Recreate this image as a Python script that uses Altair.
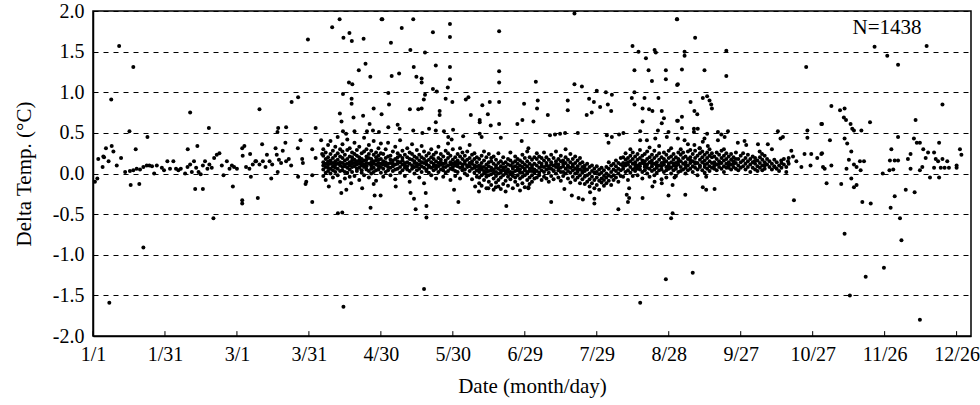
import altair as alt
import pandas as pd

# ---- scattered points: (day since 1/1, delta temp) ----
pts_jan_feb = [
    (10.9, 1.57), (16.8, 1.31), (7.6, 0.91), (40.5, 0.75), (15.2, 0.52), (22.7, 0.45),
    (48.3, 0.56), (17.8, 0.30), (39.5, 0.30), (43.5, 0.34), (0.8, -0.10), (1.8, -0.06),
    (2.2, 0.18), (4.0, 0.08), (4.6, 0.20), (5.4, 0.31), (6.5, 0.15), (7.8, 0.34),
    (8.5, 0.27), (9.9, 0.10), (11.7, 0.19), (13.4, 0.02), (15.4, 0.03), (16.8, 0.04),
    (18.2, 0.06), (19.6, 0.05), (21.0, 0.08), (22.4, 0.10), (23.5, 0.10), (24.6, 0.09),
    (25.5, 0.00), (26.6, 0.10), (28.7, 0.07), (29.6, 0.04), (31.0, 0.15), (32.1, 0.06),
    (33.5, 0.15), (34.6, 0.06), (35.6, 0.04), (36.6, 0.06), (38.4, 0.00), (39.4, 0.08),
    (40.5, 0.11), (41.2, 0.02), (42.1, 0.15), (43.0, 0.07), (44.0, 0.02), (44.9, -0.01),
    (45.8, 0.10), (46.7, 0.15), (47.7, 0.06), (48.5, 0.11), (49.5, 0.07), (50.5, 0.19),
    (51.6, 0.23), (52.7, 0.25), (53.7, 0.10), (54.4, -0.02), (55.8, 0.15), (56.9, 0.06),
    (57.9, 0.10), (58.8, 0.08), (60.0, 0.06), (15.7, -0.14), (19.3, -0.13), (42.6, -0.19),
    (45.8, -0.19), (58.3, -0.16), (50.2, -0.55), (21.0, -0.91), (6.8, -1.59), (4.3, 0.21),
]

pts_mar_apr = [
    (102.8, 1.90), (99.7, 1.80), (89.6, 1.65), (104.4, 1.67), (106.9, 1.73), (107.9, 1.63),
    (112.8, 1.66), (120.3, 1.90), (113.6, 1.35), (110.8, 1.27), (115.6, 1.19), (106.7, 1.12),
    (108.1, 1.10), (85.5, 0.94), (82.8, 0.88), (104.2, 0.98), (107.8, 0.92), (107.8, 0.86),
    (69.4, 0.79), (102.9, 0.74), (117.0, 0.80), (120.3, 0.73), (108.6, 0.69), (112.6, 0.71),
    (103.6, 0.64), (115.3, 0.61), (77.2, 0.56), (80.5, 0.57), (92.8, 0.56), (76.9, 0.51),
    (104.2, 0.52), (105.5, 0.49), (109.0, 0.52), (114.2, 0.52), (116.7, 0.53), (119.2, 0.51),
    (62.2, 0.31), (62.4, 0.22), (63.1, 0.34), (65.5, 0.24), (70.5, 0.36), (68.0, 0.15),
    (63.8, 0.08), (65.2, 0.06), (66.6, 0.11), (67.7, 0.15), (69.4, 0.11), (70.8, 0.15),
    (71.9, 0.08), (72.5, 0.23), (73.6, 0.15), (74.7, 0.11), (76.1, 0.31), (76.6, 0.23),
    (77.5, 0.17), (78.4, 0.13), (79.1, 0.28), (80.2, 0.38), (80.5, 0.15), (81.6, 0.18),
    (82.6, 0.10), (85.4, 0.31), (86.5, 0.41), (87.2, 0.18), (87.5, 0.13), (91.4, 0.30),
    (92.8, 0.19), (95.1, 0.41), (95.5, 0.24), (65.8, -0.04), (74.3, -0.06), (77.0, 0.02),
    (85.5, -0.04), (88.9, -0.10), (88.6, -0.13), (91.4, -0.02), (62.2, -0.33), (62.2, -0.37),
    (68.7, -0.30), (91.4, -0.35), (98.3, -0.16), (103.5, -0.24), (105.6, -0.20),
    (107.6, -0.12), (112.2, -0.18), (117.0, -0.13), (117.4, -0.27), (119.9, -0.27),
    (115.7, -0.42), (102.1, -0.49), (103.9, -0.48), (104.4, -1.64),
]

pts_may_jun = [
    (120.6, 1.90), (133.5, 1.90), (128.7, 1.79), (141.7, 1.74), (148.8, 1.84), (148.8, 1.68),
    (169.3, 1.75), (124.2, 1.61), (132.3, 1.52), (138.4, 1.49), (133.7, 1.31), (124.5, 1.20),
    (127.6, 1.23), (134.8, 1.19), (137.0, 1.17), (137.0, 1.12), (142.9, 1.33), (148.8, 1.31),
    (148.8, 1.16), (147.9, 1.06), (141.7, 1.04), (143.3, 1.01), (169.3, 1.26), (169.3, 1.12),
    (123.1, 0.99), (138.4, 0.97), (137.9, 0.91), (147.0, 0.92), (149.8, 0.88), (156.5, 0.94),
    (155.4, 0.91), (162.3, 0.84), (165.4, 0.88), (169.3, 0.88), (179.7, 0.86), (123.4, 0.85),
    (132.1, 0.79), (135.6, 0.79), (137.0, 0.80), (144.5, 0.77), (144.5, 0.72), (157.5, 0.72),
    (164.6, 0.73), (161.2, 0.66), (161.2, 0.63), (142.9, 0.63), (165.8, 0.59), (169.3, 0.61),
    (176.9, 0.61), (179.0, 0.66), (127.0, 0.60), (123.1, 0.57), (127.8, 0.55), (133.5, 0.53),
    (137.3, 0.50), (140.1, 0.55), (142.9, 0.53), (146.3, 0.52), (150.1, 0.54), (148.1, 0.45),
    (149.5, 0.42), (154.3, 0.46), (161.2, 0.49), (162.0, 0.45), (170.0, 0.44), (178.7, 0.40),
    (181.5, 0.31), (126.2, -0.16), (132.4, -0.24), (133.8, -0.31), (134.5, -0.44),
    (139.0, -0.40), (139.0, -0.54), (138.7, -0.24), (150.5, -0.20), (152.3, -0.35),
    (159.3, -0.16), (160.9, -0.22), (164.8, -0.18), (167.9, -0.17), (172.3, -0.40),
    (181.5, -0.18), (138.0, -1.42),
]

pts_jul_aug = [
    (200.7, 1.97), (243.4, 1.90), (224.9, 1.57), (227.4, 1.50), (234.1, 1.52), (234.6, 1.49),
    (230.5, 1.42), (225.7, 1.27), (231.6, 1.27), (238.8, 1.27), (238.8, 1.16), (233.0, 1.14),
    (243.5, 1.09), (184.6, 1.13), (200.7, 1.10), (203.8, 1.07), (210.0, 1.02), (213.8, 1.00),
    (216.3, 0.97), (225.7, 1.00), (224.6, 0.93), (229.9, 0.93), (235.7, 0.93), (185.4, 0.90),
    (197.9, 0.90), (206.8, 0.92), (208.8, 0.88), (211.4, 0.82), (214.6, 0.85), (225.7, 0.85),
    (229.1, 0.80), (231.8, 0.79), (233.2, 0.77), (185.1, 0.80), (197.9, 0.78), (216.0, 0.77),
    (205.8, 0.72), (207.9, 0.75), (189.6, 0.72), (237.1, 0.77), (238.0, 0.68), (237.1, 0.62),
    (229.1, 0.64), (183.6, 0.64), (243.8, 0.65), (235.5, 0.53), (239.9, 0.51), (190.5, 0.47),
    (192.6, 0.48), (194.7, 0.49), (196.8, 0.50), (202.1, 0.50), (214.2, 0.47), (216.3, 0.45),
    (219.3, 0.48), (221.1, 0.50), (228.1, 0.52), (230.9, 0.41), (234.4, 0.43), (214.9, 0.38),
    (228.1, 0.41), (239.2, 0.45), (181.5, -0.17), (196.5, -0.19), (199.6, -0.27),
    (202.4, -0.30), (204.2, -0.32), (207.2, -0.23), (209.0, -0.31), (209.0, -0.37),
    (191.0, -0.35), (223.5, -0.18), (222.5, -0.26), (223.5, -0.30), (223.0, -0.35),
    (229.1, -0.30), (233.2, -0.16), (234.1, -0.10), (237.1, -0.12), (239.9, -0.27),
    (241.6, -0.14), (219.0, -0.44), (241.6, -0.49), (241.0, -0.55), (238.8, -1.30),
    (228.1, -1.59),
]

pts_sep_oct = [
    (243.5, 1.90), (251.0, 1.67), (246.6, 1.50), (246.6, 1.45), (264.0, 1.51), (245.5, 1.28),
    (254.9, 1.27), (264.0, 1.20), (243.8, 1.10), (297.3, 1.31), (254.2, 0.93), (256.0, 0.95),
    (257.0, 0.90), (257.7, 0.85), (258.0, 0.80), (249.1, 0.88), (250.7, 0.77), (251.9, 0.73),
    (245.5, 0.70), (243.5, 0.65), (245.5, 0.56), (250.5, 0.55), (252.1, 0.55), (250.5, 0.51),
    (256.0, 0.49), (254.9, 0.43), (254.2, 0.39), (260.5, 0.51), (261.9, 0.48), (264.7, 0.52),
    (260.5, 0.41), (263.3, 0.45), (303.6, 0.61), (285.5, 0.52), (297.8, 0.53), (297.8, 0.44),
    (286.6, 0.43), (287.6, 0.45), (268.8, 0.38), (271.6, 0.40), (272.3, 0.35), (277.2, 0.36),
    (281.3, 0.36), (283.0, 0.30), (243.8, 0.43), (246.6, 0.41), (248.0, 0.36), (250.7, 0.35),
    (256.3, 0.34), (252.8, 0.31), (263.0, 0.30), (291.1, 0.28), (291.8, 0.21), (293.2, 0.15),
    (296.6, 0.24), (299.4, 0.24), (301.9, 0.19), (303.6, 0.24), (286.9, 0.16), (289.7, 0.15),
    (295.3, 0.08), (299.1, 0.10), (304.3, 0.08), (284.1, 0.08), (277.9, 0.27), (278.9, 0.24),
    (275.8, 0.15), (280.0, 0.10), (242.4, -0.05), (255.6, -0.04), (254.2, -0.17),
    (255.6, -0.20), (259.1, -0.19), (246.9, -0.26), (292.2, -0.33), (250.0, -1.22),
]

pts_nov_dec = [
    (325.8, 1.56), (331.1, 1.45), (335.6, 1.34), (347.5, 1.57), (354.1, 0.85), (307.8, 0.83),
    (311.4, 0.78), (313.3, 0.80), (313.0, 0.69), (313.9, 0.66), (315.8, 0.61), (323.9, 0.63),
    (342.9, 0.66), (303.9, 0.61), (316.5, 0.55), (317.2, 0.53), (320.3, 0.53), (335.6, 0.45),
    (307.2, 0.41), (313.3, 0.43), (314.4, 0.37), (342.2, 0.43), (343.4, 0.38), (344.7, 0.38),
    (332.8, 0.30), (316.1, 0.27), (346.1, 0.30), (348.1, 0.26), (350.6, 0.26), (352.7, 0.38),
    (361.4, 0.30), (362.0, 0.23), (303.9, 0.25), (340.8, 0.24), (339.7, 0.18), (347.1, 0.19),
    (351.3, 0.18), (352.3, 0.15), (354.1, 0.18), (356.1, 0.15), (332.2, 0.16), (334.2, 0.16),
    (335.6, 0.16), (315.1, 0.17), (317.2, 0.11), (318.3, 0.08), (319.7, 0.15), (321.4, 0.15),
    (320.0, 0.04), (314.1, 0.06), (305.0, 0.06), (307.8, 0.10), (329.2, 0.00), (332.0, 0.04),
    (333.6, 0.05), (340.8, 0.06), (344.7, 0.04), (345.7, 0.08), (350.6, 0.07), (353.4, 0.07),
    (355.0, 0.07), (356.8, 0.07), (360.0, 0.10), (360.0, 0.07), (305.8, -0.12), (311.9, -0.13),
    (316.1, -0.06), (317.2, -0.17), (318.3, -0.14), (348.9, -0.05), (352.7, -0.05),
    (334.2, -0.28), (338.8, -0.20), (342.5, -0.23), (320.7, -0.35), (324.2, -0.37),
    (332.5, -0.42), (336.4, -0.55), (313.3, -0.74), (337.0, -0.82), (329.7, -1.16),
    (322.1, -1.27), (315.5, -1.50), (344.7, -1.80),
]

# ---- dense band, estimated per day: (day, [deltas]) ----
band_apr = [
    (96, [0.05, 0.14, 0.22, -0.03, 0.10, 0.30]), (97, [0.08, 0.18, 0.01, 0.26, 0.12, -0.08]),
    (98, [0.03, 0.11, 0.20, 0.35, 0.07, 0.15]), (99, [0.12, 0.00, 0.24, 0.16, 0.06, 0.40]),
    (100, [0.09, 0.19, -0.05, 0.28, 0.13, 0.04]), (101, [0.15, 0.07, 0.22, 0.02, 0.33, 0.11]),
    (102, [0.06, 0.17, 0.25, -0.02, 0.12, 0.45]), (103, [0.10, 0.21, 0.03, 0.14, 0.30, -0.10]),
    (104, [0.04, 0.13, 0.19, 0.27, 0.08, 0.36]), (105, [0.11, 0.02, 0.23, 0.16, -0.06, 0.09]),
    (106, [0.07, 0.18, 0.29, 0.12, 0.01, 0.42]), (107, [0.14, 0.05, 0.21, 0.10, 0.31, -0.04]),
    (108, [0.02, 0.12, 0.20, 0.26, 0.08, 0.16]), (109, [0.09, 0.17, -0.03, 0.24, 0.13, 0.38]),
    (110, [0.06, 0.15, 0.22, 0.03, 0.11, 0.29]), (111, [0.12, 0.20, 0.07, 0.33, -0.08, 0.16]),
    (112, [0.04, 0.10, 0.18, 0.25, 0.14, 0.01]), (113, [0.08, 0.16, 0.27, 0.11, -0.02, 0.44]),
    (114, [0.13, 0.05, 0.21, 0.17, 0.30, 0.09]), (115, [0.03, 0.12, 0.19, 0.24, -0.05, 0.35]),
    (116, [0.10, 0.18, 0.06, 0.28, 0.14, 0.00]), (117, [0.07, 0.15, 0.23, 0.02, 0.12, 0.40]),
    (118, [0.11, 0.20, 0.04, 0.26, 0.16, -0.09]), (119, [0.05, 0.13, 0.22, 0.09, 0.31, 0.17]),
    (120, [0.08, 0.18, 0.01, 0.25, 0.12, 0.37]),
]

band_may = [
    (121, [0.06, 0.15, 0.24, -0.04, 0.11]), (122, [0.10, 0.19, 0.02, 0.30, 0.14]),
    (123, [0.04, 0.12, 0.21, 0.08, 0.38]), (124, [0.13, 0.22, -0.02, 0.17, 0.07]),
    (125, [0.09, 0.16, 0.27, 0.03, 0.12]), (126, [0.05, 0.18, 0.11, 0.33, -0.07]),
    (127, [0.12, 0.20, 0.06, 0.25, 0.15]), (128, [0.08, 0.14, 0.01, 0.22, 0.41]),
    (129, [0.11, 0.19, 0.04, 0.28, 0.16]), (130, [0.07, 0.13, 0.23, -0.03, 0.10]),
    (131, [0.14, 0.05, 0.20, 0.31, 0.09]), (132, [0.03, 0.12, 0.18, 0.26, -0.10]),
    (133, [0.10, 0.17, 0.06, 0.24, 0.36]), (134, [0.08, 0.15, 0.21, 0.00, 0.13]),
    (135, [0.12, 0.04, 0.19, 0.29, 0.09]), (136, [0.06, 0.16, 0.23, -0.05, 0.11]),
    (137, [0.09, 0.14, 0.02, 0.20, 0.34]), (138, [0.13, 0.07, 0.18, 0.27, -0.12]),
    (139, [0.05, 0.11, 0.22, 0.15, 0.03]), (140, [0.10, 0.17, 0.01, 0.25, 0.08]),
    (141, [0.07, 0.14, 0.20, -0.02, 0.30]), (142, [0.12, 0.04, 0.18, 0.23, 0.09]),
    (143, [0.06, 0.15, 0.26, 0.10, -0.06]), (144, [0.09, 0.02, 0.19, 0.13, 0.33]),
    (145, [0.11, 0.17, 0.05, 0.24, 0.14]), (146, [0.04, 0.12, 0.21, -0.04, 0.08]),
    (147, [0.08, 0.16, 0.28, 0.01, 0.13]), (148, [0.10, 0.03, 0.19, 0.25, 0.37]),
    (149, [0.06, 0.14, 0.22, -0.08, 0.11]), (150, [0.12, 0.05, 0.17, 0.30, 0.08]),
    (151, [0.03, 0.10, 0.20, 0.14, -0.03]), (152, [0.09, 0.16, 0.02, 0.24, 0.12]),
    (153, [0.07, 0.13, 0.21, -0.06, 0.31]), (154, [0.11, 0.04, 0.18, 0.26, 0.08]),
    (155, [0.05, 0.15, 0.00, 0.22, 0.12]), (156, [0.08, 0.17, 0.27, -0.02, 0.10]),
    (157, [0.13, 0.03, 0.19, 0.09, 0.35]), (158, [0.06, 0.12, 0.23, -0.07, 0.15]),
    (159, [0.10, 0.01, 0.18, 0.25, 0.07]), (160, [0.04, 0.14, 0.20, 0.09, -0.04]),
]

band_jun = [
    (161, [0.02, 0.10, -0.05, 0.18, -0.12, 0.06]), (162, [0.05, -0.02, 0.13, 0.22, -0.15, 0.08]),
    (163, [0.00, 0.08, -0.08, 0.16, 0.03, 0.27]), (164, [0.06, -0.04, 0.11, -0.18, 0.20, 0.02]),
    (165, [0.03, 0.09, -0.10, 0.14, -0.02, 0.24]), (166, [-0.01, 0.07, 0.15, -0.14, 0.04, 0.19]),
    (167, [0.05, -0.06, 0.12, 0.01, -0.20, 0.21]), (168, [0.02, 0.10, -0.03, 0.17, -0.11, 0.07]),
    (169, [0.06, -0.08, 0.13, 0.00, 0.25, -0.16]), (170, [0.01, 0.09, -0.05, 0.15, 0.04, -0.19]),
    (171, [0.04, -0.02, 0.12, -0.13, 0.20, 0.07]), (172, [0.00, 0.08, -0.09, 0.14, 0.03, -0.22]),
    (173, [0.05, -0.04, 0.11, 0.18, -0.15, 0.02]), (174, [0.02, 0.10, -0.07, 0.16, -0.01, 0.26]),
    (175, [0.06, -0.03, 0.13, -0.18, 0.08, 0.01]), (176, [0.03, 0.09, -0.10, 0.15, -0.05, 0.21]),
    (177, [-0.02, 0.07, 0.12, -0.14, 0.04, 0.18]), (178, [0.05, -0.06, 0.10, 0.01, -0.21, 0.16]),
    (179, [0.01, 0.08, -0.04, 0.14, -0.12, 0.23]), (180, [0.04, -0.02, 0.11, 0.06, -0.17, 0.19]),
    (181, [0.02, 0.09, -0.08, 0.15, 0.00, 0.27]), (182, [0.06, -0.05, 0.12, 0.03, -0.13, 0.20]),
    (183, [0.03, 0.10, -0.02, 0.17, 0.07, -0.10]), (184, [0.05, 0.12, -0.06, 0.20, 0.01]),
]

band_jul = [
    (185, [0.03, 0.10, 0.18, -0.05, 0.25]), (186, [0.07, 0.14, -0.02, 0.21, 0.01]),
    (187, [0.04, 0.12, 0.19, -0.08, 0.09]), (188, [0.08, 0.02, 0.16, 0.26, -0.04]),
    (189, [0.05, 0.13, -0.06, 0.20, 0.10]), (190, [0.01, 0.09, 0.17, 0.06, -0.10]),
    (191, [0.06, 0.14, -0.03, 0.23, 0.11]), (192, [0.03, 0.10, 0.19, -0.07, 0.04]),
    (193, [0.08, 0.00, 0.15, 0.27, 0.12]), (194, [0.04, 0.11, -0.05, 0.18, 0.07]),
    (195, [0.07, 0.15, 0.02, 0.22, -0.09]), (196, [0.02, 0.09, 0.16, -0.03, 0.12]),
    (197, [0.06, 0.13, 0.20, 0.00, 0.30]), (198, [0.03, 0.10, -0.06, 0.17, 0.08]),
    (199, [0.07, 0.14, 0.01, 0.24, -0.11]), (200, [0.04, 0.11, 0.18, -0.04, 0.09]),
    (201, [0.06, 0.00, 0.13, 0.21, -0.08]), (202, [0.02, 0.09, -0.05, 0.16, 0.05]),
    (203, [0.05, -0.02, 0.12, 0.19, -0.12]), (204, [0.01, 0.08, -0.07, 0.14, 0.03]),
    (205, [0.03, -0.04, 0.10, -0.13, 0.06]),
    (206, [-0.02, 0.05, -0.10, 0.12]), (207, [0.00, -0.07, 0.08, -0.16]),
    (208, [-0.04, 0.03, -0.12, 0.10]), (209, [0.01, -0.08, 0.06, -0.18]),
    (210, [-0.05, 0.02, -0.14, 0.09]), (211, [-0.01, -0.09, 0.05, -0.20]),
    (212, [-0.06, 0.01, -0.11, 0.07]), (213, [-0.03, 0.04, -0.15, -0.08]),
    (214, [0.00, -0.05, 0.08, -0.12]), (215, [-0.02, 0.06, -0.09, 0.14]),
    (216, [0.02, -0.04, 0.10, -0.14]), (217, [0.05, -0.02, 0.12, -0.08]),
    (218, [0.03, 0.09, -0.05, 0.16]), (219, [0.06, 0.00, 0.13, -0.10]),
    (220, [0.04, 0.11, -0.03, 0.19]),
]

band_aug = [
    (221, [0.06, 0.13, 0.20, -0.04, 0.09]), (222, [0.10, 0.02, 0.17, 0.25, 0.12]),
    (223, [0.04, 0.11, 0.19, -0.08, 0.14]), (224, [0.08, 0.15, 0.01, 0.22, 0.30]),
    (225, [0.12, 0.05, 0.18, 0.26, -0.03]), (226, [0.07, 0.14, 0.21, 0.03, 0.11]),
    (227, [0.10, 0.17, -0.02, 0.24, 0.06]), (228, [0.05, 0.12, 0.19, 0.29, 0.09]),
    (229, [0.13, 0.02, 0.16, 0.22, -0.06]), (230, [0.08, 0.15, 0.24, 0.04, 0.11]),
    (231, [0.11, 0.18, 0.00, 0.27, 0.07]), (232, [0.06, 0.14, 0.20, -0.04, 0.32]),
    (233, [0.09, 0.16, 0.03, 0.23, 0.12]), (234, [0.12, 0.05, 0.19, 0.28, -0.02]),
    (235, [0.07, 0.14, 0.22, 0.01, 0.10]), (236, [0.10, 0.17, 0.04, 0.25, 0.34]),
    (237, [0.05, 0.13, 0.20, -0.07, 0.09]), (238, [0.11, 0.18, 0.02, 0.26, 0.14]),
    (239, [0.08, 0.15, 0.23, 0.04, -0.05]), (240, [0.12, 0.06, 0.19, 0.28, 0.10]),
    (241, [0.07, 0.14, 0.21, 0.00, 0.31]), (242, [0.10, 0.17, 0.04, 0.24, 0.12]),
    (243, [0.06, 0.13, 0.20, -0.03, 0.09]), (244, [0.11, 0.18, 0.02, 0.26, 0.15]),
]

band_sep = [
    (245, [0.08, 0.15, 0.23, 0.03, 0.30]), (246, [0.12, 0.19, 0.05, 0.26]),
    (247, [0.07, 0.14, 0.21, 0.00, 0.11]), (248, [0.10, 0.18, 0.27, 0.04]),
    (249, [0.13, 0.06, 0.20, 0.29, 0.16]), (250, [0.09, 0.15, 0.02, 0.24]),
    (251, [0.12, 0.19, 0.07, 0.28, 0.14]), (252, [0.05, 0.13, 0.22, -0.02]),
    (253, [0.10, 0.17, 0.25, 0.08, 0.31]), (254, [0.14, 0.04, 0.20, 0.27]),
    (255, [0.08, 0.16, 0.23, 0.01, 0.11]), (256, [0.12, 0.19, 0.06, 0.26]),
    (257, [0.09, 0.15, 0.22, 0.03, 0.30]), (258, [0.13, 0.07, 0.20, 0.25]),
    (259, [0.06, 0.14, 0.21, 0.10]), (260, [0.11, 0.18, 0.04, 0.26]),
    (261, [0.08, 0.15, 0.23, 0.12]), (262, [0.13, 0.06, 0.19, 0.28]),
    (263, [0.09, 0.16, 0.02, 0.22]), (264, [0.12, 0.18, 0.07, 0.25]),
    (265, [0.07, 0.14, 0.21, 0.10]), (266, [0.11, 0.17, 0.05, 0.24]),
    (267, [0.08, 0.15, 0.20, 0.12]), (268, [0.13, 0.06, 0.18, 0.26]),
    (269, [0.10, 0.18, 0.04]), (270, [0.14, 0.07, 0.22]), (271, [0.09, 0.16, 0.25]),
    (272, [0.12, 0.05, 0.19]), (273, [0.08, 0.15, 0.23]), (274, [0.11, 0.02, 0.18]),
    (275, [0.07, 0.14, 0.21]), (276, [0.12, 0.19, 0.05]), (277, [0.09, 0.16, 0.03]),
    (278, [0.13, 0.07, 0.20]), (279, [0.10, 0.17, 0.04]), (280, [0.06, 0.14, 0.22]),
    (281, [0.11, 0.18]), (282, [0.08, 0.15]), (283, [0.12, 0.05]), (284, [0.09, 0.17]),
    (285, [0.14, 0.06]), (286, [0.10, 0.03]), (287, [0.07, 0.13]), (288, [0.11, 0.18]),
    (289, [0.08, 0.02]), (290, [0.12, 0.19]),
]

tick_days = [0, 30, 60, 90, 120, 150, 180, 210, 240, 270, 300, 330, 360]
tick_labels = ["1/1", "1/31", "3/1", "3/31", "4/30", "5/30", "6/29", "7/29",
               "8/28", "9/27", "10/27", "11/26", "12/26"]
y_ticks = [-2.0, -1.5, -1.0, -0.5, 0.0, 0.5, 1.0, 1.5, 2.0]
n_label = "N=1438"
n_pos = (331, 1.79)

rows = []
for seg in [pts_jan_feb, pts_mar_apr, pts_may_jun, pts_jul_aug, pts_sep_oct, pts_nov_dec]:
    for d, v in seg:
        rows.append({"day": d, "delta": v})
for band in [band_apr, band_may, band_jun, band_jul, band_aug, band_sep]:
    for d, vals in band:
        for v in vals:
            rows.append({"day": d, "delta": v})
df = pd.DataFrame(rows)

ticks_df = pd.DataFrame({"day": tick_days, "y0": [-2.0] * len(tick_days),
                         "y1": [-1.94] * len(tick_days)})
text_df = pd.DataFrame({"day": [n_pos[0]], "delta": [n_pos[1]], "label": [n_label]})

FONT = "Liberation Serif"
x_scale = alt.Scale(domain=[0, 366], nice=False, zero=False)
y_scale = alt.Scale(domain=[-2.0, 2.0], nice=False)

labels_js = "[" + ",".join("'" + l + "'" for l in tick_labels) + "]"
days_js = "[" + ",".join(str(d) for d in tick_days) + "]"
x_label_expr = labels_js + "[indexof(" + days_js + ", datum.value)]"

x_axis = alt.Axis(values=tick_days, labelExpr=x_label_expr, title="Date (month/day)",
                  grid=False, ticks=False, domainColor="black", domainWidth=1.5,
                  labelFont=FONT, labelFontSize=20, labelColor="black", labelPadding=8,
                  titleFont=FONT, titleFontSize=21, titleFontWeight="normal",
                  titleColor="black", titlePadding=11, labelFlush=False)
y_axis = alt.Axis(values=y_ticks, labelExpr="replace(format(datum.value, '.1f'), '\u2212', '-')",
                  title="Delta Temp. (\u00b0C)", grid=True, gridColor="black",
                  gridDash=[5, 5], gridWidth=1, ticks=False, domainColor="black",
                  domainWidth=1.5, labelFont=FONT, labelFontSize=20, labelColor="black",
                  labelPadding=9, titleFont=FONT, titleFontSize=21,
                  titleFontWeight="normal", titleColor="black", titlePadding=18)

points = alt.Chart(df).mark_circle(size=16, color="black", opacity=1).encode(
    x=alt.X("day:Q", scale=x_scale, axis=x_axis),
    y=alt.Y("delta:Q", scale=y_scale, axis=y_axis),
)

tick_marks = alt.Chart(ticks_df).mark_rule(color="black", strokeWidth=1).encode(
    x=alt.X("day:Q", scale=x_scale),
    y=alt.Y("y0:Q", scale=y_scale),
    y2="y1:Q",
)

n_text = alt.Chart(text_df).mark_text(font=FONT, fontSize=21, color="black").encode(
    x=alt.X("day:Q", scale=x_scale),
    y=alt.Y("delta:Q", scale=y_scale),
    text="label:N",
)

chart = alt.layer(points, tick_marks, n_text).properties(
    width=878, height=325,
    autosize=alt.AutoSizeParams(type="none"),
    padding={"left": 93, "top": 11, "right": 9, "bottom": 69},
    background="white",
).configure_view(stroke="black", strokeWidth=1.5)

chart.save("out.html", embed_options={"renderer": "svg", "actions": False})
